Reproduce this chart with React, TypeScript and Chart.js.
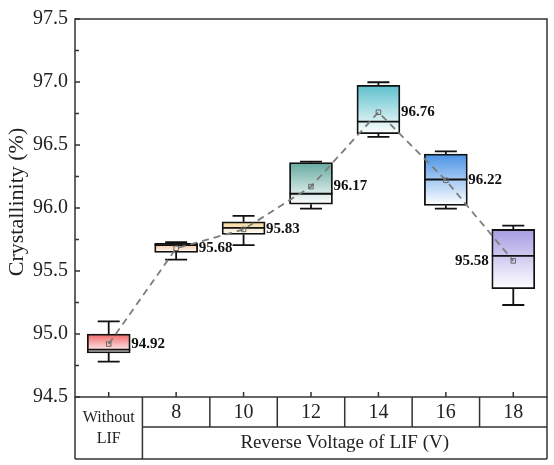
import React, { useEffect, useRef } from 'react';
import { Chart, registerables } from 'chart.js';

Chart.register(...registerables);

// ---- data ----
const categories = ['Without LIF', '8', '10', '12', '14', '16', '18'];
const firstColumnLines = ['Without', 'LIF'];
const groupTitle = 'Reverse Voltage of LIF (V)';
const yTitle = 'Crystallinity (%)';

const mins = [94.78, 95.59, 95.705, 95.995, 96.565, 95.995, 95.23];
const q1s = [94.85, 95.648, 95.79, 96.03, 96.59, 96.02, 95.36];
const medians = [94.876, 95.705, 95.843, 96.113, 96.685, 96.226, 95.62];
const q3s = [95.0, 95.72, 95.89, 96.36, 96.974, 96.428, 95.83];
const maxs = [95.1, 95.728, 95.937, 96.368, 96.998, 96.449, 95.86];
const means = [94.92, 95.68, 95.83, 96.17, 96.76, 96.22, 95.58];

const boxColors = ['#f06565', '#f2b88a', '#f3d48e', '#64aa9f', '#5cc0cc', '#4a92e6', '#a69ce2'];

const yMin = 94.5;
const yMax = 97.5;
const yStep = 0.5;

const SERIF = '"Liberation Serif", "Times New Roman", serif';
const BOX_INDEX = 0;

const boxPlugin = {
  id: 'boxExtras',
  afterDatasetDraw(chart: any, args: any) {
    if (args.index !== BOX_INDEX) return;
    const ctx = chart.ctx;
    const y = chart.scales.y;
    const meta = chart.getDatasetMeta(BOX_INDEX);
    ctx.save();
    ctx.strokeStyle = '#111';
    ctx.lineWidth = 1.8;
    meta.data.forEach((bar: any, i: number) => {
      const { x, width } = bar.getProps(['x', 'width'], true);
      const pMax = y.getPixelForValue(maxs[i]);
      const pQ3 = y.getPixelForValue(q3s[i]);
      const pQ1 = y.getPixelForValue(q1s[i]);
      const pMin = y.getPixelForValue(mins[i]);
      const pMed = y.getPixelForValue(medians[i]);
      const cap = 11;
      ctx.beginPath();
      ctx.moveTo(x, pQ3);
      ctx.lineTo(x, pMax);
      ctx.moveTo(x - cap, pMax);
      ctx.lineTo(x + cap, pMax);
      ctx.moveTo(x, pQ1);
      ctx.lineTo(x, pMin);
      ctx.moveTo(x - cap, pMin);
      ctx.lineTo(x + cap, pMin);
      ctx.moveTo(x - width / 2, pMed);
      ctx.lineTo(x + width / 2, pMed);
      ctx.stroke();
    });
    ctx.restore();
  },
  afterDatasetsDraw(chart: any) {
    const ctx = chart.ctx;
    const y = chart.scales.y;
    const meta = chart.getDatasetMeta(BOX_INDEX);
    ctx.save();
    ctx.font = `bold 15px ${SERIF}`;
    ctx.fillStyle = '#111';
    ctx.textBaseline = 'middle';
    meta.data.forEach((bar: any, i: number) => {
      const { x, width } = bar.getProps(['x', 'width'], true);
      const py = y.getPixelForValue(means[i]);
      const text = means[i].toFixed(2);
      if (i === meta.data.length - 1) {
        ctx.textAlign = 'right';
        ctx.fillText(text, x - width / 2 - 3, py);
      } else {
        ctx.textAlign = 'left';
        ctx.fillText(text, x + width / 2 + 1, py);
      }
    });
    ctx.restore();
  },
  afterDraw(chart: any) {
    const ctx = chart.ctx;
    const area = chart.chartArea;
    const x = chart.scales.x;
    const y = chart.scales.y;
    ctx.save();
    // frame
    ctx.strokeStyle = '#333';
    ctx.lineWidth = 1.5;
    ctx.strokeRect(area.left, area.top, area.right - area.left, area.bottom - area.top);

    // y ticks (inward)
    ctx.beginPath();
    for (let v = yMin; v <= yMax + 1e-9; v += yStep / 2) {
      const py = y.getPixelForValue(v);
      const isMajor = Math.abs(Math.round(v / yStep) * yStep - v) < 1e-6;
      ctx.moveTo(area.left, py);
      ctx.lineTo(area.left + (isMajor ? 5 : 4), py);
    }
    // x ticks (inward)
    categories.forEach((_, i) => {
      const px = x.getPixelForValue(i);
      ctx.moveTo(px, area.bottom);
      ctx.lineTo(px, area.bottom - 5);
    });
    ctx.stroke();

    // table below
    const row1 = 30;
    const row2 = 32;
    const top = area.bottom;
    const mid = top + row1;
    const bot = mid + row2;
    const bounds: number[] = [area.left];
    for (let i = 0; i < categories.length - 1; i++) {
      bounds.push((x.getPixelForValue(i) + x.getPixelForValue(i + 1)) / 2);
    }
    bounds.push(area.right);
    ctx.beginPath();
    ctx.moveTo(area.left, bot);
    ctx.lineTo(area.right, bot);
    ctx.moveTo(bounds[1], mid);
    ctx.lineTo(area.right, mid);
    ctx.moveTo(area.left, top);
    ctx.lineTo(area.left, bot);
    ctx.moveTo(bounds[1], top);
    ctx.lineTo(bounds[1], bot);
    ctx.moveTo(area.right, top);
    ctx.lineTo(area.right, bot);
    for (let i = 2; i < bounds.length - 1; i++) {
      ctx.moveTo(bounds[i], top);
      ctx.lineTo(bounds[i], mid);
    }
    ctx.stroke();

    ctx.fillStyle = '#222';
    ctx.textAlign = 'center';
    ctx.textBaseline = 'middle';
    ctx.font = `16px ${SERIF}`;
    const c0 = (bounds[0] + bounds[1]) / 2;
    ctx.fillText(firstColumnLines[0], c0, (top + bot) / 2 - 10);
    ctx.fillText(firstColumnLines[1], c0, (top + bot) / 2 + 11);
    ctx.font = `20px ${SERIF}`;
    for (let i = 1; i < categories.length; i++) {
      ctx.fillText(categories[i], x.getPixelForValue(i), (top + mid) / 2 + 1);
    }
    ctx.font = `19px ${SERIF}`;
    ctx.fillText(groupTitle, (bounds[1] + area.right) / 2, (mid + bot) / 2);

    // y title
    ctx.save();
    ctx.translate(17, (area.top + area.bottom) / 2 - 6);
    ctx.rotate(-Math.PI / 2);
    ctx.font = `22px ${SERIF}`;
    ctx.fillStyle = '#222';
    ctx.fillText(yTitle, 0, 0);
    ctx.restore();

    ctx.restore();
  },
};

export default function App() {
  const ref = useRef<HTMLCanvasElement>(null);
  useEffect(() => {
    const canvas = ref.current;
    if (!canvas) return;
    const chart = new Chart(canvas, {
      data: {
        labels: categories,
        datasets: [
          {
            type: 'bar',
            order: 1,
            data: q1s.map((v, i) => [v, q3s[i]]),
            barThickness: 43,
            borderColor: '#111',
            borderWidth: 1.8,
            borderSkipped: false,
            backgroundColor: (c: any) => {
              const ch = c.chart;
              const i = c.dataIndex;
              const col = boxColors[i] || '#ccc';
              if (!ch.chartArea || !ch.scales.y || i === undefined) return col;
              const yS = ch.scales.y;
              const t = yS.getPixelForValue(q3s[i]);
              const b = yS.getPixelForValue(q1s[i]);
              if (!isFinite(t) || !isFinite(b) || t === b) return col;
              const g = ch.ctx.createLinearGradient(0, t, 0, b);
              g.addColorStop(0, col);
              g.addColorStop(1, '#ffffff');
              return g;
            },
          } as any,
          {
            type: 'line',
            order: 0,
            data: means,
            borderColor: '#7c7c7c',
            borderWidth: 1.8,
            borderDash: [7, 5],
            pointStyle: 'rect',
            pointRadius: 3.2,
            pointBorderWidth: 1,
            pointBorderColor: '#666',
            pointBackgroundColor: 'rgba(255,255,255,0)',
            fill: false,
          } as any,
        ],
      },
      options: {
        animation: false,
        responsive: true,
        maintainAspectRatio: false,
        layout: { padding: { top: 15, right: 7, bottom: 68, left: 0 } },
        plugins: {
          legend: { display: false },
          tooltip: { enabled: false },
        },
        scales: {
          x: {
            type: 'category',
            display: false,
            offset: true,
          },
          y: {
            min: yMin,
            max: yMax,
            afterFit: (s: any) => {
              s.width = 75;
            },
            grid: { display: false, drawTicks: false },
            border: { display: false },
            ticks: {
              stepSize: yStep,
              padding: 7,
              color: '#222',
              font: { family: SERIF, size: 20 },
              callback: (v: any) => Number(v).toFixed(1),
            },
          },
        },
      } as any,
      plugins: [boxPlugin],
    } as any);
    return () => chart.destroy();
  }, []);
  return (
    <div style={{ position: 'fixed', left: 0, top: 0, width: 554, height: 465, background: '#fff' }}>
      <canvas ref={ref} />
    </div>
  );
}
